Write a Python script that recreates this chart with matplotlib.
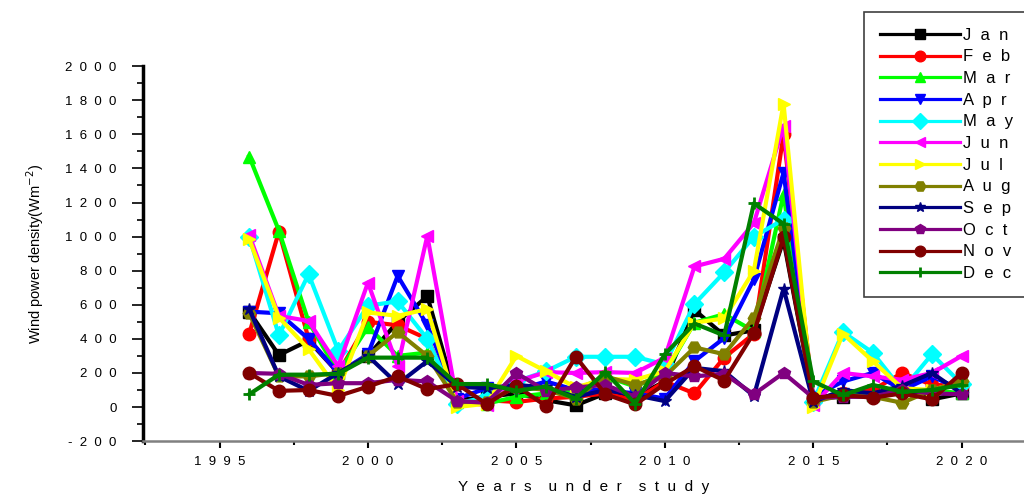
import matplotlib
matplotlib.use("Agg")
import matplotlib.pyplot as plt
from matplotlib.ticker import MultipleLocator, FuncFormatter

# Years covered by the study
years = list(range(1996, 2021))

# Monthly wind power density (W/m^2)
jan = [560, 305, 390, 200, 300, 500, 650, 40, 60, 80, 40, 10, 80, 60, 150,
       570, 420, 450, 980, 50, 60, 70, 100, 45, 80]
feb = [430, 1030, 400, 200, 500, 480, 400, 30, 40, 30, 50, 60, 80, 40, 150,
       80, 290, 430, 1600, 50, 80, 100, 200, 130, 125]
mar = [1470, 1035, 500, 200, 470, 300, 320, 30, 20, 60, 80, 100, 180, 120, 200,
       495, 545, 445, 1250, 40, 80, 70, 100, 100, 80]
apr = [560, 550, 400, 200, 310, 770, 480, 50, 110, 100, 150, 100, 100, 80, 50,
       270, 405, 750, 1375, 60, 150, 200, 100, 180, 100]
may = [1000, 420, 780, 330, 595, 620, 400, 20, 60, 150, 210, 295, 295, 295, 250,
       605, 790, 1000, 1100, 30, 440, 320, 100, 310, 135]
jun = [1010, 535, 505, 240, 730, 240, 1005, 35, 10, 150, 205, 200, 205, 200, 290,
       825, 870, 1080, 1650, 10, 200, 180, 160, 200, 300]
jul = [985, 525, 340, 100, 555, 535, 575, 0, 20, 300, 210, 115, 165, 160, 210,
       495, 520, 800, 1780, 0, 430, 270, 110, 100, 150]
aug = [550, 180, 180, 200, 300, 440, 300, 30, 30, 120, 100, 50, 180, 130, 180,
       350, 310, 525, 1050, 30, 70, 60, 25, 100, 150]
sep = [575, 180, 95, 200, 300, 135, 270, 120, 110, 130, 115, 60, 100, 70, 35,
       230, 210, 65, 695, 30, 100, 80, 125, 200, 80]
oct_ = [200, 195, 130, 140, 140, 160, 150, 35, 25, 200, 95, 115, 130, 60, 200,
        180, 195, 75, 200, 55, 60, 60, 100, 80, 75]
nov = [200, 95, 100, 65, 120, 180, 105, 135, 18, 125, 5, 295, 75, 15, 135,
       240, 155, 435, 995, 55, 70, 55, 80, 45, 200]
dec = [75, 190, 190, 195, 290, 290, 290, 135, 135, 95, 120, 50, 205, 20, 310,
       490, 420, 1195, 1075, 150, 70, 130, 90, 100, 130]

month_names = ["Jan", "Feb", "Mar", "Apr", "May", "Jun",
               "Jul", "Aug", "Sep", "Oct", "Nov", "Dec"]
month_values = [jan, feb, mar, apr, may, jun, jul, aug, sep, oct_, nov, dec]

# Origin-style colours and symbols
colors = ["#000000", "#ff0000", "#00ff00", "#0000ff", "#00ffff", "#ff00ff",
          "#ffff00", "#808000", "#000080", "#800080", "#800000", "#008000"]
markers = ["s", "o", "^", "v", "D", "<", ">", "H", "*", "p", "o", "+"]


def spaced(text, gap="  "):
    """Spread letters apart, like the wide tracking in the original figure."""
    return gap.join(text)


def draw_chart():
    plt.rcParams["font.family"] = ["Liberation Sans", "DejaVu Sans"]

    fig = plt.figure(figsize=(10.24, 4.94), dpi=100)
    ax = fig.add_axes([0.1396, 0.107, 0.8604, 0.759])

    for name, vals, col, mk in zip(month_names, month_values, colors, markers):
        ax.plot(years, vals, color=col, marker=mk, lw=3, markersize=9,
                markeredgewidth=2 if mk == "+" else 1, markeredgecolor=col,
                label=spaced(name))

    ax.set_xlim(1992.42, 2022.1)
    ax.set_ylim(-200, 2000)

    # axes and ticks
    ax.spines["top"].set_visible(False)
    ax.spines["right"].set_visible(False)
    ax.spines["left"].set_linewidth(2.5)
    ax.spines["left"].set_color("black")
    ax.spines["bottom"].set_linewidth(1.8)
    ax.spines["bottom"].set_color("#808080")

    ax.xaxis.set_major_locator(MultipleLocator(5))
    ax.xaxis.set_minor_locator(MultipleLocator(2.5))
    ax.yaxis.set_major_locator(MultipleLocator(200))
    ax.yaxis.set_minor_locator(MultipleLocator(100))
    fmt = FuncFormatter(lambda v, p: spaced(f"{int(round(v))}"))
    ax.xaxis.set_major_formatter(fmt)
    ax.yaxis.set_major_formatter(fmt)

    ax.tick_params(axis="y", which="major", direction="out", length=8,
                   width=1.2, pad=11, labelsize=9.5)
    ax.tick_params(axis="y", which="minor", direction="out", length=4, width=1.2)
    ax.tick_params(axis="x", which="major", direction="out", length=5,
                   width=1.5, color="black", pad=6, labelsize=9.5)
    ax.tick_params(axis="x", which="minor", direction="out", length=3,
                   width=1.5, color="black")

    ax.set_xlabel("Y  e  a  r  s    u  n  d  e  r    s  t  u  d  y",
                  fontsize=11, labelpad=8)
    ax.set_ylabel("Wind power density(Wm$^{-2}$)", fontsize=10.5, labelpad=14)

    leg = fig.legend(loc="upper left", bbox_to_anchor=(864 / 1024, 1 - 12 / 494),
                     fontsize=12, handlelength=4.8, handletextpad=0.2,
                     labelspacing=0.4, borderpad=0.95, fancybox=False,
                     framealpha=1, markerscale=0.85, borderaxespad=0)
    leg.get_frame().set_edgecolor("#404040")
    leg.get_frame().set_linewidth(1.2)
    for handle in leg.get_lines():
        handle.set_linewidth(2.3)

    fig.savefig("out.png", dpi=100)


def main():
    draw_chart()


if __name__ == "__main__":
    main()
